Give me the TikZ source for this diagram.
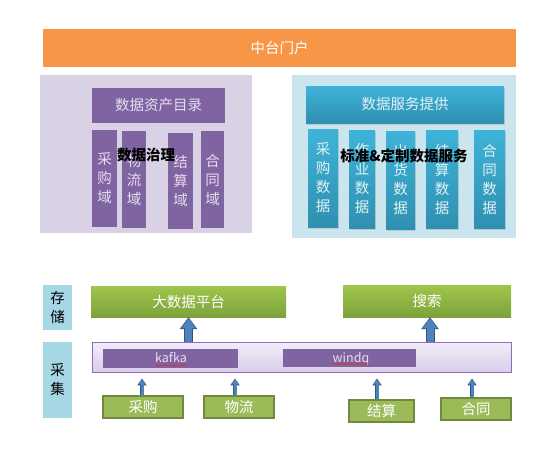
\documentclass[tikz,border=0pt]{standalone}
\usepackage{fontspec}
\setmainfont{Noto Sans CJK SC}
\usetikzlibrary{arrows.meta, shadows, decorations.pathmorphing}

\definecolor{portalorange}{HTML}{F79646}
\definecolor{govpanel}{HTML}{D9D1E4}
\definecolor{govpurple}{HTML}{8064A2}
\definecolor{govtext}{HTML}{E4DDEE}
\definecolor{svcpanel}{HTML}{CBE5EE}
\definecolor{svctop}{HTML}{3EB3D8}
\definecolor{svcbottom}{HTML}{2F90B0}
\definecolor{svctext}{HTML}{E2F2F7}
\definecolor{layerblue}{HTML}{A6D7E4}
\definecolor{greentop}{HTML}{9FC54C}
\definecolor{greenbottom}{HTML}{7DA23B}
\definecolor{srcgreen}{HTML}{9BBB59}
\definecolor{srcedge}{HTML}{71893F}
\definecolor{busedge}{HTML}{8E6CB8}
\definecolor{bustop}{HTML}{F1EDF8}
\definecolor{busbottom}{HTML}{D8CEEA}
\definecolor{arrowblue}{HTML}{4F81BD}
\definecolor{arrowedge}{HTML}{2F5585}
\definecolor{spellred}{HTML}{E0302A}

\tikzset{
  box/.style={inner sep=0pt, align=center, font=\fontsize{14.5}{19}\selectfont},
  domainbox/.style={box, fill=govpurple, text=govtext},
  svcblock/.style={box, top color=svctop, bottom color=svcbottom, text=svctext,
    drop shadow={opacity=0.25, shadow xshift=1pt, shadow yshift=-1.5pt}},
  layerbox/.style={box, fill=layerblue, text=black},
  storebox/.style={box, top color=greentop, bottom color=greenbottom, text=white},
  sourcebox/.style={box, draw=srcedge, line width=1.5pt, fill=srcgreen, text=white},
  queuebox/.style={box, fill=govpurple},
  titletext/.style={inner sep=0pt, font=\fontsize{14.5}{19}\selectfont\bfseries, text=black},
  bigarrow/.style={line width=7pt, draw=arrowblue, shorten >=1.2pt,
    -{Triangle[width=14pt,length=10pt]},
    preaction={draw=arrowedge, line width=9pt, shorten >=0pt, -{Triangle[width=17pt,length=12pt]}}},
  smallarrow/.style={line width=3pt, draw=arrowblue, shorten >=6.8pt,
    -{Triangle[width=7pt,length=5pt]},
    preaction={draw=arrowedge, line width=4.5pt, shorten >=6pt, -{Triangle[width=9pt,length=7pt]}}},
  spellmark/.style={draw=spellred, line width=0.6pt, decorate,
    decoration={snake, amplitude=0.7pt, segment length=2.6pt}}
}

\begin{document}
\begin{tikzpicture}[x=1pt, y=-1pt]
    \useasboundingbox (0,0) rectangle (559,455);

    % Portal bar
    \node[box, fill=portalorange, text=white, minimum width=473pt, minimum height=38pt] (portal) at (279.5, 48) {中台门户};

    % Governance panel
    \node[fill=govpanel, minimum width=212pt, minimum height=158pt] (gov) at (146, 154) {};
    \node[domainbox, minimum width=133pt, minimum height=35pt] (catalog) at (158.5, 105.5) {数据资产目录};
    \node[domainbox, minimum width=25pt, minimum height=97pt] (dpurchase) at (104.5, 178.5) {采\\购\\域};
    \node[domainbox, minimum width=24pt, minimum height=97pt] (dlogistics) at (134, 179.5) {物\\流\\域};
    \node[domainbox, minimum width=25pt, minimum height=96pt] (dsettle) at (180.5, 181) {结\\算\\域};
    \node[domainbox, minimum width=23pt, minimum height=97pt] (dcontract) at (212.5, 179.5) {合\\同\\域};
    \node[titletext] (govtitle) at (146, 155) {数据治理};

    % Data service panel
    \node[fill=svcpanel, minimum width=224pt, minimum height=163pt] (svc) at (404, 156.5) {};
    \node[svcblock, minimum width=198pt, minimum height=37pt] (svchead) at (405, 104.5) {数据服务提供};
    \node[svcblock, minimum width=30pt, minimum height=98pt] (spurchase) at (323, 178) {采\\购\\数\\据};
    \node[svcblock, minimum width=26pt, minimum height=98pt] (sjob) at (362, 179) {作\\业\\数\\据};
    \node[svcblock, minimum width=29pt, minimum height=98pt] (sship) at (400.5, 180) {出\\货\\数\\据};
    \node[svcblock, minimum width=32pt, minimum height=98pt] (ssettle) at (442, 179) {结\\算\\数\\据};
    \node[svcblock, minimum width=31pt, minimum height=98pt] (scontract) at (489.5, 179) {合\\同\\数\\据};
    \node[titletext] (svctitle) at (404, 156) {标准\&定制数据服务};

    % Layer labels
    \node[layerbox, minimum width=29pt, minimum height=45pt] (lstore) at (57.5, 307.5) {存\\储};
    \node[layerbox, minimum width=29pt, minimum height=76pt] (lcollect) at (57.5, 380) {采\\集};

    % Storage
    \node[storebox, minimum width=195pt, minimum height=31pt] (platform) at (188.5, 301.5) {大数据平台};
    \node[storebox, minimum width=168pt, minimum height=32pt] (search) at (427, 301) {搜索};

    % Collection bus
    \node[draw=busedge, line width=0.9pt, top color=bustop, bottom color=busbottom, minimum width=419pt, minimum height=30pt] (bus) at (301.5, 357) {};
    \node[queuebox, minimum width=135pt, minimum height=19pt] (kafka) at (170.5, 358.5) {};
    \node[inner sep=0pt, text=govtext, font=\fontsize{12.5}{14}\selectfont] (kafkalbl) at (171, 358) {kafka};
    \node[queuebox, minimum width=133pt, minimum height=18pt] (windq) at (349.5, 358) {};
    \node[inner sep=0pt, text=govtext, font=\fontsize{12.5}{14}\selectfont, anchor=base] (windqlbl) at (351, 362) {windq};
    \draw[spellmark] ([yshift=-2.5pt]kafkalbl.base west) -- ([yshift=-2.5pt]kafkalbl.base east);
    \draw[spellmark] ([yshift=-2pt]windqlbl.base west) -- ([yshift=-2pt]windqlbl.base east);

    % Sources
    \node[sourcebox, minimum width=80pt, minimum height=22pt] (purchase) at (143, 407) {采购};
    \node[sourcebox, minimum width=70pt, minimum height=22pt] (logistics) at (239, 407) {物流};
    \node[sourcebox, minimum width=65pt, minimum height=22pt] (settle) at (381.5, 411) {结算};
    \node[sourcebox, minimum width=70pt, minimum height=22pt] (contract) at (476, 409) {合同};

    % Arrows
    \draw[bigarrow] (platform.south |- bus.north) -- (platform.south);
    \draw[bigarrow] ([xshift=3pt]search.south |- bus.north) -- ([xshift=3pt]search.south);
    \draw[smallarrow] ([xshift=-1pt]purchase.north) -- ([xshift=-1pt]purchase.north |- bus.south);
    \draw[smallarrow] ([xshift=-4pt]logistics.north) -- ([xshift=-4pt]logistics.north |- bus.south);
    \draw[smallarrow] ([xshift=-4.5pt]settle.north) -- ([xshift=-4.5pt]settle.north |- bus.south);
    \draw[smallarrow] ([xshift=-4pt]contract.north) -- ([xshift=-4pt]contract.north |- bus.south);
\end{tikzpicture}
\end{document}
